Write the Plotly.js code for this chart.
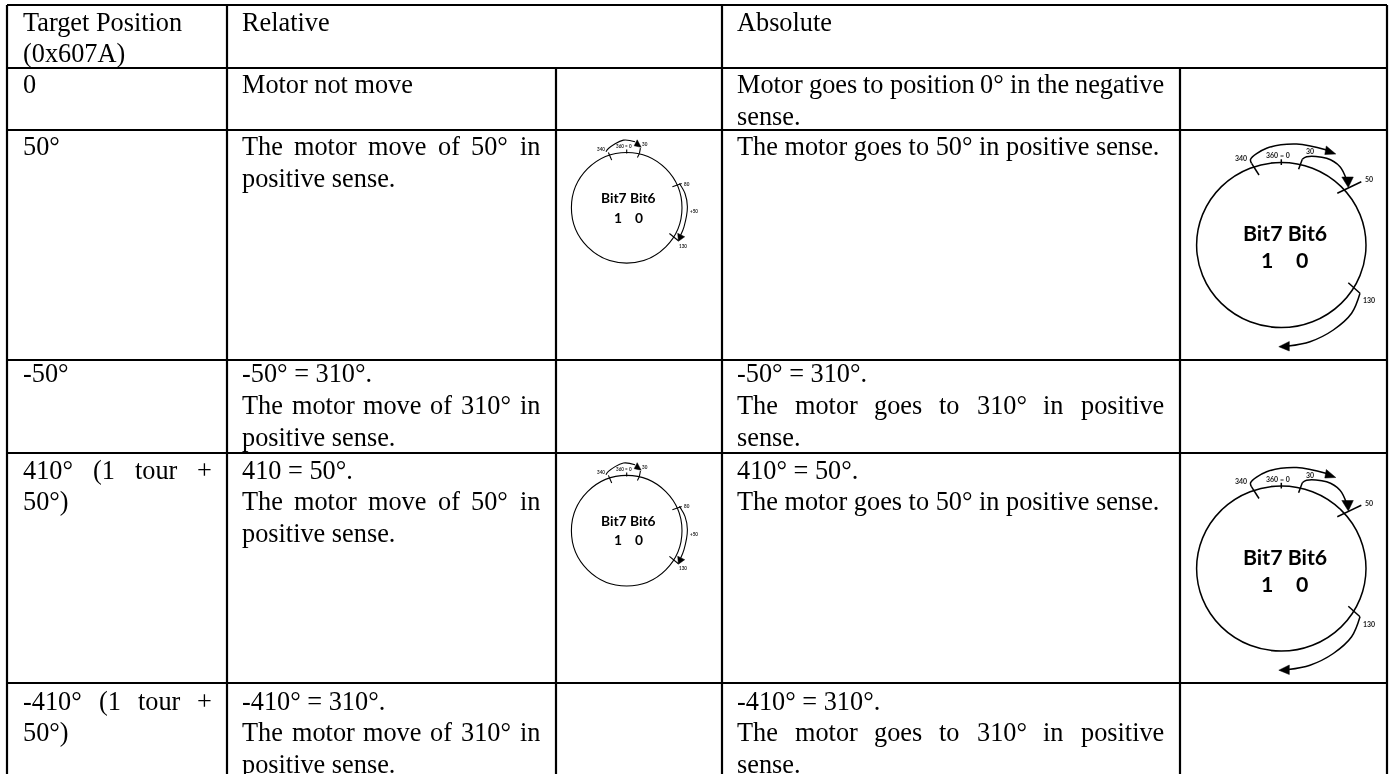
<!DOCTYPE html>
<html><head><meta charset="utf-8">
<script src="https://cdn.plot.ly/plotly-3.0.1.min.js"></script>
<style>html,body{margin:0;padding:0;background:#fff;overflow:hidden}#chart{width:1392px;height:774px}#chart svg{will-change:transform}</style>
</head><body><div id="chart"></div>
<script>
// ---- table content
const headerCells = [["Target Position","(0x607A)"],["Relative"],["Absolute"]];
const targetCol = [["0"],["50°"],["-50°"],["410° (1 tour +","50°)"],["-410° (1 tour +","50°)"]];
const relativeCol = [
  ["Motor not move"],
  ["The motor move of 50° in","positive sense."],
  ["-50° = 310°.","The motor move of 310° in","positive sense."],
  ["410 = 50°.","The motor move of 50° in","positive sense."],
  ["-410° = 310°.","The motor move of 310° in","positive sense."]
];
const absoluteCol = [
  ["Motor goes to position 0° in the negative","sense."],
  ["The motor goes to 50° in positive sense."],
  ["-50° = 310°.","The motor goes to 310° in positive","sense."],
  ["410° = 50°.","The motor goes to 50° in positive sense."],
  ["-410° = 310°.","The motor goes to 310° in positive","sense."]
];
const justifiedLines = ["410° (1 tour +","-410° (1 tour +","The motor move of 50° in","The motor move of 310° in",
  "Motor goes to position 0° in the negative","The motor goes to 310° in positive"];

// ---- table geometry
const colLeft = [23,242,737], colRight = [212,540,1164];
const headerBaseline = 30, rowBaselines = [92.7,154.7,381.7,478,709], lineStep = 31.6;
const gridWidth = 2.2;
const hLineY = [5,68,130,360,453,683];
const subDivX = 556;
const tableLeft = 7, tableRight = 1387, tableBottom = 774, tableTop = 5, headerBottom = 68;
const textFont = {family:"Liberation Serif, Times New Roman, serif", size:26.3, color:"#000"};

// ---- diagrams (offsets from the circle centre)
const smallCircleR = 55.3, largeCircleRx = 84.7, largeCircleRy = 82.6;
const smallCentres = [[626.7,207.8],[626.7,530.7]];
const largeCentres = [[1281.3,245],[1281.3,568.5]];
const smallTicks = [
  [[-18.3,-55.3],[-15,-47.7]], [[0,-58.3],[0,-54.3]], [[12.7,-54.3],[10.7,-50.3]],
  [[45.7,-21],[55,-24.3]], [[42.7,25.7],[51.7,33]], [[12.7,-54.3],[13.7,-59.7]]];
const smallArcs = [
  [[-20.7,-56],[-18.3,-59.3],[-3.3,-67.7],[8.3,-66]],
  [[52.7,-24.3],[58.3,-14.3],[60.7,-1],[57.3,19],[54,27.3]]];
const smallHeads = [
  [[14.5,-60.5],[10.5,-68],[7.5,-62]],
  [[51.7,33.5],[51,25.5],[58,29]]];
const smallLabels = [["340",-25.7,-59],["360 = 0",-2.3,-61.7],["30",18.7,-63.7],["80",60,-24.3],["+50",67.3,3.3],["130",56.7,37.7]];
const largeTicks = [
  [[-29.7,-81.7],[-22.3,-70]], [[0,-85.7],[0,-80]], [[17.3,-75.7],[21,-85.7]],
  [[56,-51.7],[80,-63.3]], [[67,37.7],[78.7,48.3]]];
const largeArcs = [
  [[21,-85.7],[25.3,-88.3],[45.3,-86.7],[58.7,-78.3],[65.3,-65]],
  [[-29.7,-81.7],[-30.7,-85.7],[-14.7,-96.7],[15.3,-101],[45.3,-95]],
  [[78.7,48.3],[70.3,68.3],[52,85],[28.7,96.7],[7,101]]];
const largeHeads = [
  [[67,-57.5],[60.5,-68],[72,-68]],
  [[54.5,-91],[45,-99],[43.5,-90.5]],
  [[-2.5,101.7],[8,96.5],[8,106]]];
const largeLabels = [["340",-40,-87.3],["360 = 0",-3,-90],["30",29,-94],["50",87.3,-65.7],["130",87.7,55.3]];
const bitLine1 = "Bit7 Bit6", bitDigits = ["1","0"];
const smallBit = {size:13.8, y1:-10, y2:9.2, dx:[-9,12.5], line:1.1, lab:4.6, shift:2};
const largeBit = {size:21.3, y1:-12, y2:15, dx:[-14,20.7], line:1.5, lab:7, shift:3.4};

// ---- helpers
const cv = document.createElement("canvas").getContext("2d");
cv.font = textFont.size + "px 'Liberation Serif'";
const traces = [], shapes = [], annotations = [];
function addPath(pts, cx, cy, w, shape){
  traces.push({type:"scatter",mode:"lines",x:pts.map(p=>p[0]+cx),y:pts.map(p=>p[1]+cy),
    line:{color:"#000",width:w,shape:shape||"linear",smoothing:1},hoverinfo:"skip",showlegend:false});
}
function addHead(pts, cx, cy){
  const c = pts.concat([pts[0]]);
  traces.push({type:"scatter",mode:"lines",x:c.map(p=>p[0]+cx),y:c.map(p=>p[1]+cy),fill:"toself",fillcolor:"#000",
    line:{color:"#000",width:0.5},hoverinfo:"skip",showlegend:false});
}
function addText(text,x,y,font,xanchor){
  annotations.push({text,x,y,xref:"x",yref:"y",showarrow:false,xanchor:xanchor||"left",yanchor:"middle",font,borderpad:0,borderwidth:0,align:"left"});
}
const baselineShift = textFont.size*0.30;
function addLine(text,col,base){
  const y = base - baselineShift, left = colLeft[col], right = colRight[col];
  if(justifiedLines.includes(text)){
    const words = text.split(" ");
    const total = words.reduce((s,w)=>s+cv.measureText(w).width,0);
    const gap = (right-left-total)/(words.length-1);
    let x = left;
    words.forEach(w=>{addText(w,x,y,textFont); x += cv.measureText(w).width + gap;});
  } else addText(text,left,y,textFont);
}
function addDiagram(c,R,Ry,ticks,arcs,heads,labels,s){
  const [cx,cy]=c;
  shapes.push({type:"circle",xref:"x",yref:"y",x0:cx-R,x1:cx+R,y0:cy-Ry,y1:cy+Ry,line:{color:"#000",width:s.line},fillcolor:"rgba(0,0,0,0)"});
  ticks.forEach(t=>addPath(t,cx,cy,s.line));
  arcs.forEach(a=>addPath(a,cx,cy,s.line,"spline"));
  heads.forEach(h=>addHead(h,cx,cy));
  const bf={family:"Lato, Noto Sans, sans-serif",size:s.size,color:"#000"};
  addText("<b>"+bitLine1+"</b>",cx+s.shift,cy+s.y1,bf,"center");
  bitDigits.forEach((d,i)=>addText("<b>"+d+"</b>",cx+s.dx[i],cy+s.y2,bf,"center"));
  labels.forEach(l=>addText("<b>"+l[0]+"</b>",cx+l[1],cy+l[2],{family:"Lato, Noto Sans, sans-serif",size:s.lab,color:"#222"},"center"));
}

// ---- grid
hLineY.forEach(y=>addPath([[tableLeft,y],[tableRight,y]],0,0,gridWidth));
[tableLeft,227,722,tableRight].forEach(x=>addPath([[x,tableTop],[x,tableBottom]],0,0,gridWidth));
[subDivX,1180].forEach(x=>addPath([[x,headerBottom],[x,tableBottom]],0,0,gridWidth));

// ---- text
headerCells.forEach((lines,c)=>lines.forEach((t,i)=>addLine(t,c,headerBaseline+i*lineStep)));
[targetCol,relativeCol,absoluteCol].forEach((col,c)=>col.forEach((lines,r)=>
  lines.forEach((t,i)=>addLine(t,c,rowBaselines[r]+i*lineStep))));

// ---- diagrams
smallCentres.forEach(c=>addDiagram(c,smallCircleR,smallCircleR,smallTicks,smallArcs,smallHeads,smallLabels,smallBit));
largeCentres.forEach(c=>addDiagram(c,largeCircleRx,largeCircleRy,largeTicks,largeArcs,largeHeads,largeLabels,largeBit));

Plotly.newPlot("chart",traces,{
  width:1392,height:774,margin:{l:0,r:0,t:0,b:0,pad:0},showlegend:false,
  paper_bgcolor:"#fff",plot_bgcolor:"#fff",
  xaxis:{range:[0,1392],visible:false,fixedrange:true},
  yaxis:{range:[774,0],visible:false,fixedrange:true},
  shapes,annotations,hovermode:false
},{staticPlot:true,displayModeBar:false});
</script></body></html>
